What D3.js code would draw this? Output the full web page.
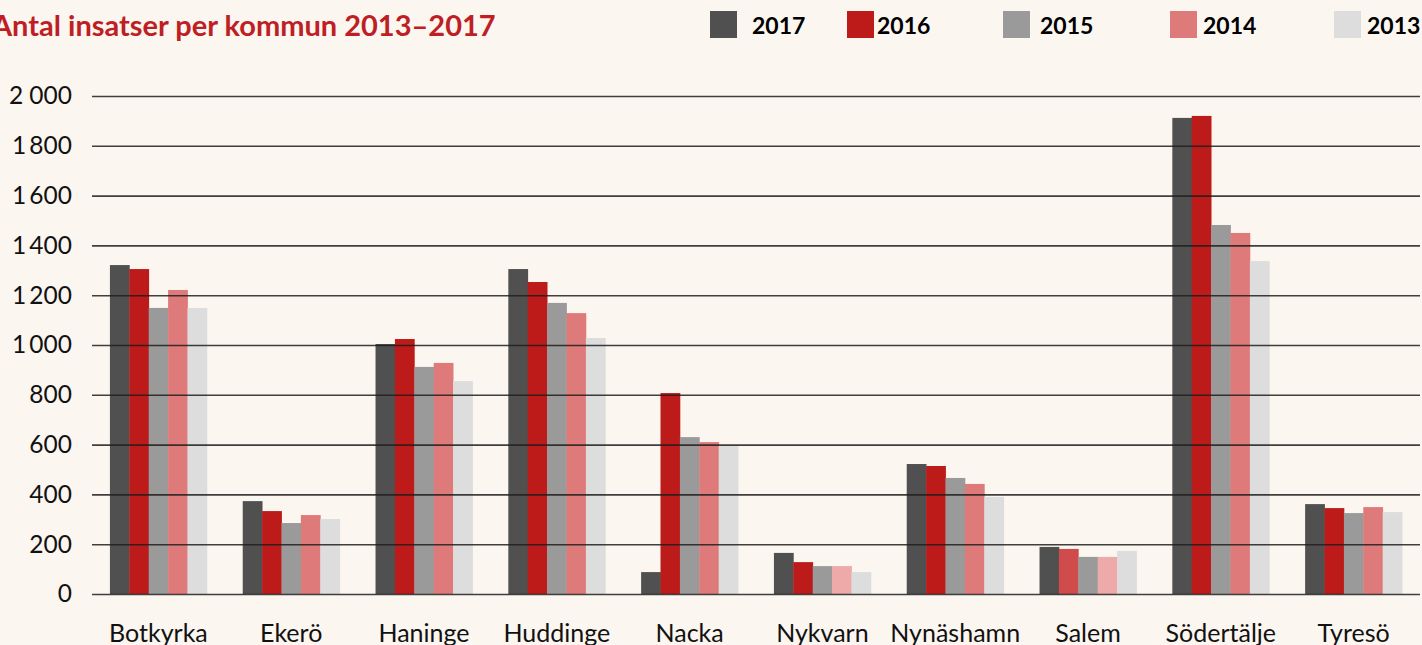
<!DOCTYPE html>
<html>
<head>
<meta charset="utf-8">
<script src="https://cdn.jsdelivr.net/npm/d3@7"></script>
<style>
  html, body { margin: 0; padding: 0; background: #fbf6f0; overflow: hidden; }
  svg { display: block; font-family: Lato, sans-serif; }
</style>
</head>
<body>
<script>
// Kommuner och år
const kommuner = ['Botkyrka', 'Ekerö', 'Haninge', 'Huddinge', 'Nacka', 'Nykvarn', 'Nynäshamn', 'Salem', 'Södertälje', 'Tyresö'];
const years = ['2017', '2016', '2015', '2014', '2013'];

// Antal insatser per år (samma ordning som kommuner)
const v2017 = [1321, 373, 1004, 1305, 88, 165, 522, 189, 1912, 361];
const v2016 = [1305, 333, 1024, 1253, 807, 128, 514, 181, 1920, 345];
const v2015 = [1149, 285, 912, 1169, 630, 112, 466, 149, 1482, 325];
const v2014 = [1221, 317, 928, 1128, 610, 112, 442, 149, 1450, 349];
const v2013 = [1149, 301, 855, 1028, 598, 88, 390, 173, 1337, 329];

const yTicks = [0, 200, 400, 600, 800, 1000, 1200, 1400, 1600, 1800, 2000];
const yTickLabels = ['0', '200', '400', '600', '800', '1\u2009000', '1\u2009200', '1\u2009400', '1\u2009600', '1\u2009800', '2 000'];

const series = { '2017': v2017, '2016': v2016, '2015': v2015, '2014': v2014, '2013': v2013 };

const colors = { '2017': '#505050', '2016': '#bd1a1a', '2015': '#9a9a9a', '2014': '#df7a7a', '2013': '#dddddd' };
// några staplar är ljusare i originalet
const colorOverride = { 'Nykvarn|2014': '#eeaaa8', 'Salem|2016': '#d04c4c', 'Salem|2014': '#eeaaa8' };

const width = 1422;
const height = 645;
const mLeft = 92, mRight = 1420, mTop = 96, mBottom = 594;

const svg = d3.select('body').append('svg')
    .attr('width', width)
    .attr('height', height);

const x = d3.scaleBand()
    .domain(kommuner)
    .range([mLeft, mRight])
    .paddingInner(0.27)
    .paddingOuter(0.135);

const xInner = d3.scaleBand()
    .domain(years)
    .range([0, x.bandwidth()]);

const y = d3.scaleLinear()
    .domain([0, 2000])
    .range([mBottom, mTop]);

// staplar
const rows = kommuner.map((k, i) => ({ k, vals: years.map(yr => ({ yr, k, v: series[yr][i] })) }));

svg.append('g')
  .selectAll('g')
  .data(rows)
  .join('g')
    .attr('transform', d => `translate(${x(d.k)},0)`)
  .selectAll('rect')
  .data(d => d.vals)
  .join('rect')
    .attr('x', d => xInner(d.yr))
    .attr('y', d => y(d.v))
    .attr('width', xInner.bandwidth() + 0.4)
    .attr('height', d => y(0) - y(d.v))
    .attr('fill', d => colorOverride[d.k + '|' + d.yr] || colors[d.yr]);

// rutnät ovanpå staplarna
const yAxis = d3.axisLeft(y)
    .tickValues(yTicks)
    .tickSize(-(mRight - mLeft))
    .tickFormat((d, i) => yTickLabels[i]);

const gy = svg.append('g')
    .attr('transform', `translate(${mLeft},0)`)
    .call(yAxis);
gy.select('.domain').remove();
gy.selectAll('.tick line')
    .attr('stroke', '#1e1e1e')
    .attr('stroke-opacity', 0.85)
    .attr('stroke-width', 1.6);
gy.selectAll('.tick text')
    .attr('x', -20)
    .attr('fill', '#111')
    .style('font-size', '24.5px')
    .style('font-family', 'Lato, sans-serif');

// x-axel etiketter
const xAxis = d3.axisBottom(x).tickSize(0);
const gx = svg.append('g')
    .attr('transform', `translate(0,${mBottom})`)
    .call(xAxis);
gx.select('.domain').remove();
gx.selectAll('.tick text')
    .attr('y', 48)
    .attr('dy', 0)
    .attr('fill', '#111')
    .style('font-size', '25px')
    .style('font-family', 'Lato, sans-serif');

// titel
svg.append('text')
    .attr('x', -8)
    .attr('y', 36)
    .attr('fill', '#be1e24')
    .style('font-size', '29px')
    .style('font-weight', 'bold')
    .text('Antal insatser per kommun 2013–2017');

// legend
const legendX = [710, 847, 1003, 1170, 1334];
const legendTextX = [752, 877, 1040, 1203, 1367];
const lg = svg.append('g');
years.forEach((yr, i) => {
  lg.append('rect')
    .attr('x', legendX[i])
    .attr('y', 11)
    .attr('width', 27)
    .attr('height', 27)
    .attr('fill', colors[yr]);
  lg.append('text')
    .attr('x', legendTextX[i])
    .attr('y', 34)
    .attr('fill', '#000')
    .style('font-size', '23px')
    .style('font-weight', 'bold')
    .text(yr);
});
</script>
</body>
</html>
